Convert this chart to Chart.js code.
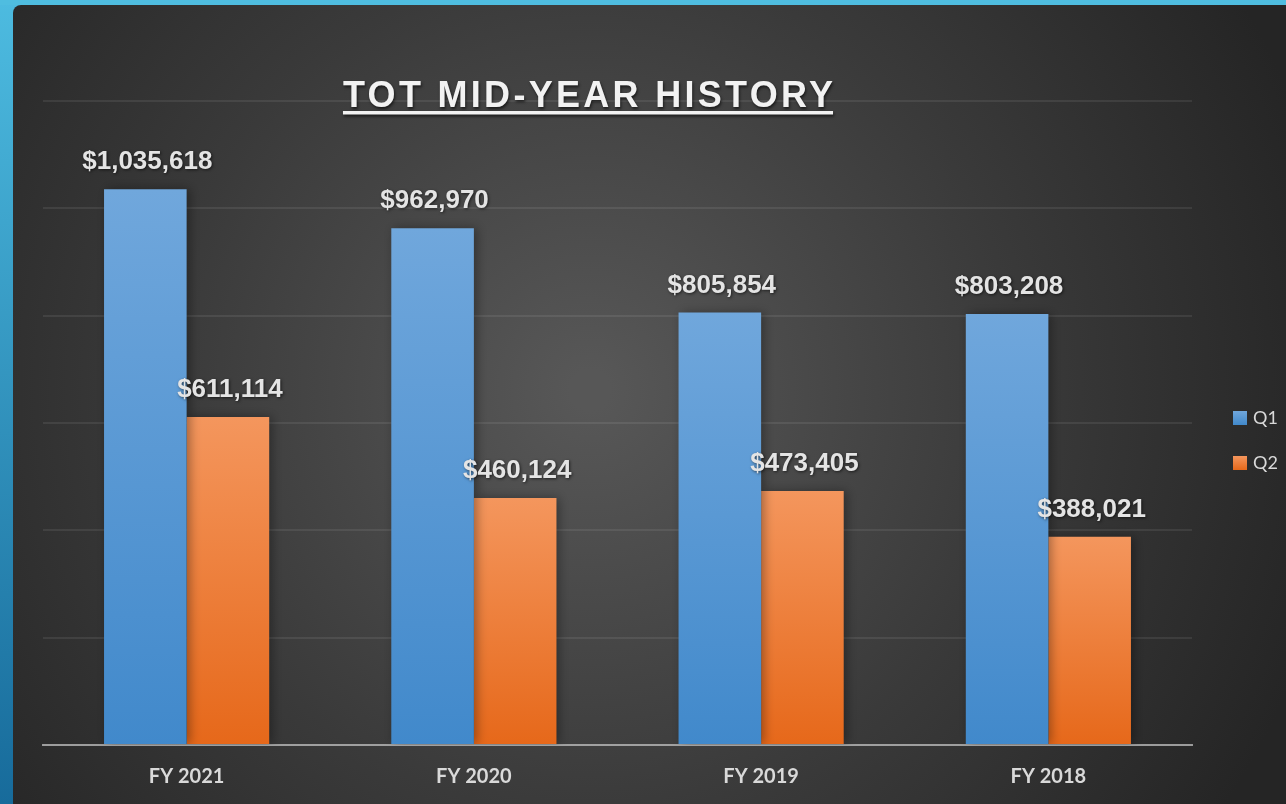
<!DOCTYPE html>
<html>
<head>
<meta charset="utf-8">
<title>TOT Mid-Year History</title>
<script src="https://cdn.jsdelivr.net/npm/chart.js@4.4.1/dist/chart.umd.min.js"></script>
<style>
    html, body { margin: 0; padding: 0; background: #262626; overflow: hidden; }
    canvas { display: block; }
</style>
</head>
<body>
<canvas id="totChart" width="1286" height="804"></canvas>
<script>
// Chart data
const chartTitle = 'TOT MID-YEAR HISTORY';
const fiscalYears = ['FY 2021', 'FY 2020', 'FY 2019', 'FY 2018'];
const q1Values = [1035618, 962970, 805854, 803208];
const q2Values = [611114, 460124, 473405, 388021];
const seriesNames = ['Q1', 'Q2'];

// Colours used for the bar gradients (top, bottom)
const q1Colors = ['#70a7dc', '#4189cb'];
const q2Colors = ['#f4965d', '#e6681a'];

function formatMoney(v) {
    return '$' + v.toLocaleString('en-US');
}

// Vertical gradient for each bar, from its top to the baseline
function barGradient(colors) {
    return function(context) {
        const chart = context.chart;
        const yScale = chart.scales.y;
        if (!yScale || context.raw === undefined) return colors[1];
        const top = yScale.getPixelForValue(context.raw);
        const bottom = yScale.getPixelForValue(0);
        if (!isFinite(top) || !isFinite(bottom) || top === bottom) return colors[1];
        const g = chart.ctx.createLinearGradient(0, top, 0, bottom);
        g.addColorStop(0, colors[0]);
        g.addColorStop(1, colors[1]);
        return g;
    };
}

// Dark panel with blue frame behind everything
const backgroundPlugin = {
    id: 'panelBackground',
    beforeDraw(chart) {
        const ctx = chart.ctx;
        const w = chart.width, h = chart.height;
        ctx.save();
        // blue frame
        const side = ctx.createLinearGradient(0, 0, 0, h);
        side.addColorStop(0, '#4dbbe0');
        side.addColorStop(1, '#176b9b');
        ctx.fillStyle = side;
        ctx.fillRect(0, 0, w, h);
        ctx.fillStyle = '#4fbde0';
        ctx.fillRect(0, 0, w, 5);
        // panel
        const bg = ctx.createRadialGradient(590, 390, 20, 590, 390, 760);
        bg.addColorStop(0, '#575757');
        bg.addColorStop(0.55, '#3a3a3a');
        bg.addColorStop(1, '#252525');
        ctx.fillStyle = bg;
        ctx.beginPath();
        ctx.roundRect(13, 5, w - 13, h - 5, [8, 0, 0, 0]);
        ctx.fill();
        ctx.restore();
    }
};

// Soft shadow under bars
const barShadowPlugin = {
    id: 'barShadow',
    beforeDatasetsDraw(chart) {
        const ctx = chart.ctx;
        ctx.save();
        ctx.shadowColor = 'rgba(0, 0, 0, 0.35)';
        ctx.shadowBlur = 10;
        ctx.shadowOffsetX = 3;
        ctx.shadowOffsetY = 0;
    },
    afterDatasetsDraw(chart) {
        chart.ctx.restore();
    }
};

// Value labels above each bar
const valueLabelPlugin = {
    id: 'valueLabels',
    afterDatasetsDraw(chart) {
        const ctx = chart.ctx;
        ctx.save();
        ctx.font = 'bold 26px "Liberation Sans", Arial, sans-serif';
        ctx.textAlign = 'center';
        ctx.textBaseline = 'middle';
        ctx.fillStyle = '#e4e4e4';
        ctx.shadowColor = 'rgba(0, 0, 0, 0.6)';
        ctx.shadowBlur = 3;
        ctx.shadowOffsetX = 1;
        ctx.shadowOffsetY = 1;
        chart.data.datasets.forEach((ds, i) => {
            const meta = chart.getDatasetMeta(i);
            meta.data.forEach((bar, j) => {
                ctx.fillText(formatMoney(ds.data[j]), bar.x + 2, bar.y - 27);
            });
        });
        ctx.restore();
    }
};

// Underlined, letter-spaced title
const titlePlugin = {
    id: 'underlinedTitle',
    afterDraw(chart) {
        const ctx = chart.ctx;
        ctx.save();
        ctx.font = 'bold 36px "Liberation Sans", Arial, sans-serif';
        ctx.letterSpacing = '3.3px';
        ctx.textAlign = 'left';
        ctx.textBaseline = 'alphabetic';
        const width = ctx.measureText(chartTitle).width - 3.3;
        const cx = 588;
        const x = cx - width / 2;
        ctx.shadowColor = 'rgba(0, 0, 0, 0.6)';
        ctx.shadowBlur = 3;
        ctx.shadowOffsetX = 1;
        ctx.shadowOffsetY = 2;
        ctx.fillStyle = '#f2f2f2';
        ctx.fillText(chartTitle, x, 107);
        ctx.fillRect(x, 111, width, 3.5);
        ctx.restore();
    }
};

// Legend at the right side
const legendPlugin = {
    id: 'sideLegend',
    afterDraw(chart) {
        const ctx = chart.ctx;
        ctx.save();
        ctx.font = '18px Lato, "Open Sans", sans-serif';
        ctx.textBaseline = 'middle';
        ctx.textAlign = 'left';
        const legendColors = [q1Colors, q2Colors];
        chart.data.datasets.forEach((ds, i) => {
            const y = 418 + i * 45;
            const g = ctx.createLinearGradient(0, y - 7, 0, y + 7);
            g.addColorStop(0, legendColors[i][0]);
            g.addColorStop(1, legendColors[i][1]);
            ctx.fillStyle = g;
            ctx.fillRect(1233, y - 7, 14, 14);
            ctx.fillStyle = '#d9d9d9';
            ctx.fillText(ds.label, 1253, y);
        });
        ctx.restore();
    }
};

const ctx = document.getElementById('totChart').getContext('2d');
new Chart(ctx, {
    type: 'bar',
    data: {
        labels: fiscalYears,
        datasets: [{
            label: seriesNames[0],
            data: q1Values,
            backgroundColor: barGradient(q1Colors),
            borderWidth: 0
        }, {
            label: seriesNames[1],
            data: q2Values,
            backgroundColor: barGradient(q2Colors),
            borderWidth: 0
        }]
    },
    options: {
        responsive: false,
        animation: false,
        layout: {
            padding: { left: 43, right: 94, top: 101, bottom: 0 }
        },
        datasets: {
            bar: {
                categoryPercentage: 0.575,
                barPercentage: 1
            }
        },
        plugins: {
            legend: { display: false },
            title: { display: false },
            tooltip: { enabled: false }
        },
        scales: {
            x: {
                z: 1,
                grid: { display: false, drawTicks: false },
                border: { display: true, color: 'rgba(190, 190, 190, 0.75)', width: 2 },
                ticks: {
                    color: '#d9d9d9',
                    padding: 20,
                    font: { family: 'Lato, "Open Sans", sans-serif', size: 20, weight: 'bold' }
                },
                afterFit(scale) { scale.height = 59; }
            },
            y: {
                min: 0,
                max: 1200000,
                ticks: { display: false, stepSize: 200000 },
                grid: { color: 'rgba(255, 255, 255, 0.08)', lineWidth: 2, drawTicks: false },
                border: { display: false },
                afterFit(scale) { scale.width = 0; }
            }
        }
    },
    plugins: [backgroundPlugin, barShadowPlugin, valueLabelPlugin, titlePlugin, legendPlugin]
});
</script>
</body>
</html>
